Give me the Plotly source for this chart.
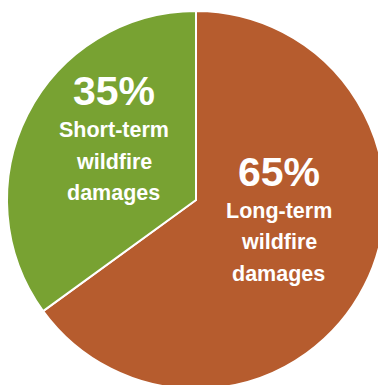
import plotly.graph_objects as go

labels = ["Long-term wildfire damages", "Short-term wildfire damages"]
values = [65, 35]
colors = ["#B65C2E", "#78A232"]

W, H = 392, 400

fig = go.Figure(go.Pie(
    labels=labels,
    values=values,
    sort=False,
    direction="clockwise",
    rotation=0,
    marker=dict(colors=colors, line=dict(color="white", width=2)),
    textinfo="none",
    hoverinfo="none",
    showlegend=False,
    domain=dict(x=[0, 1], y=[11 / H, 1 - 11 / H]),
))

FONT = "Liberation Sans, Arial, sans-serif"
# label block anchors (pixel centres of the percentage line)
anchors = [(278.5, 172), (113.5, 91)]
total = sum(values)
for (cx, cy), lab, v in zip(anchors, labels, values):
    fig.add_annotation(
        x=cx / W, y=1 - cy / H, xref="paper", yref="paper",
        text=f"<b>{round(100 * v / total)}%</b>", showarrow=False,
        font=dict(family=FONT, size=41, color="white"),
        xanchor="center", yanchor="middle",
    )
    words = lab.split(" ")
    for i, w in enumerate(words):
        fig.add_annotation(
            x=cx / W, y=1 - (cy + 39 + 31.5 * i) / H, xref="paper", yref="paper",
            text=f"<b>{w}</b>", showarrow=False,
            font=dict(family=FONT, size=21.5, color="white"),
            xanchor="center", yanchor="middle",
        )

fig.update_layout(
    width=W, height=H,
    margin=dict(l=0, r=0, t=0, b=0),
    paper_bgcolor="white",
    plot_bgcolor="white",
)

fig.write_html(
    "out.html",
    config={"displayModeBar": False},
    post_script="document.body.style.margin='0';document.body.style.overflow='hidden';document.documentElement.style.overflow='hidden';",
)
